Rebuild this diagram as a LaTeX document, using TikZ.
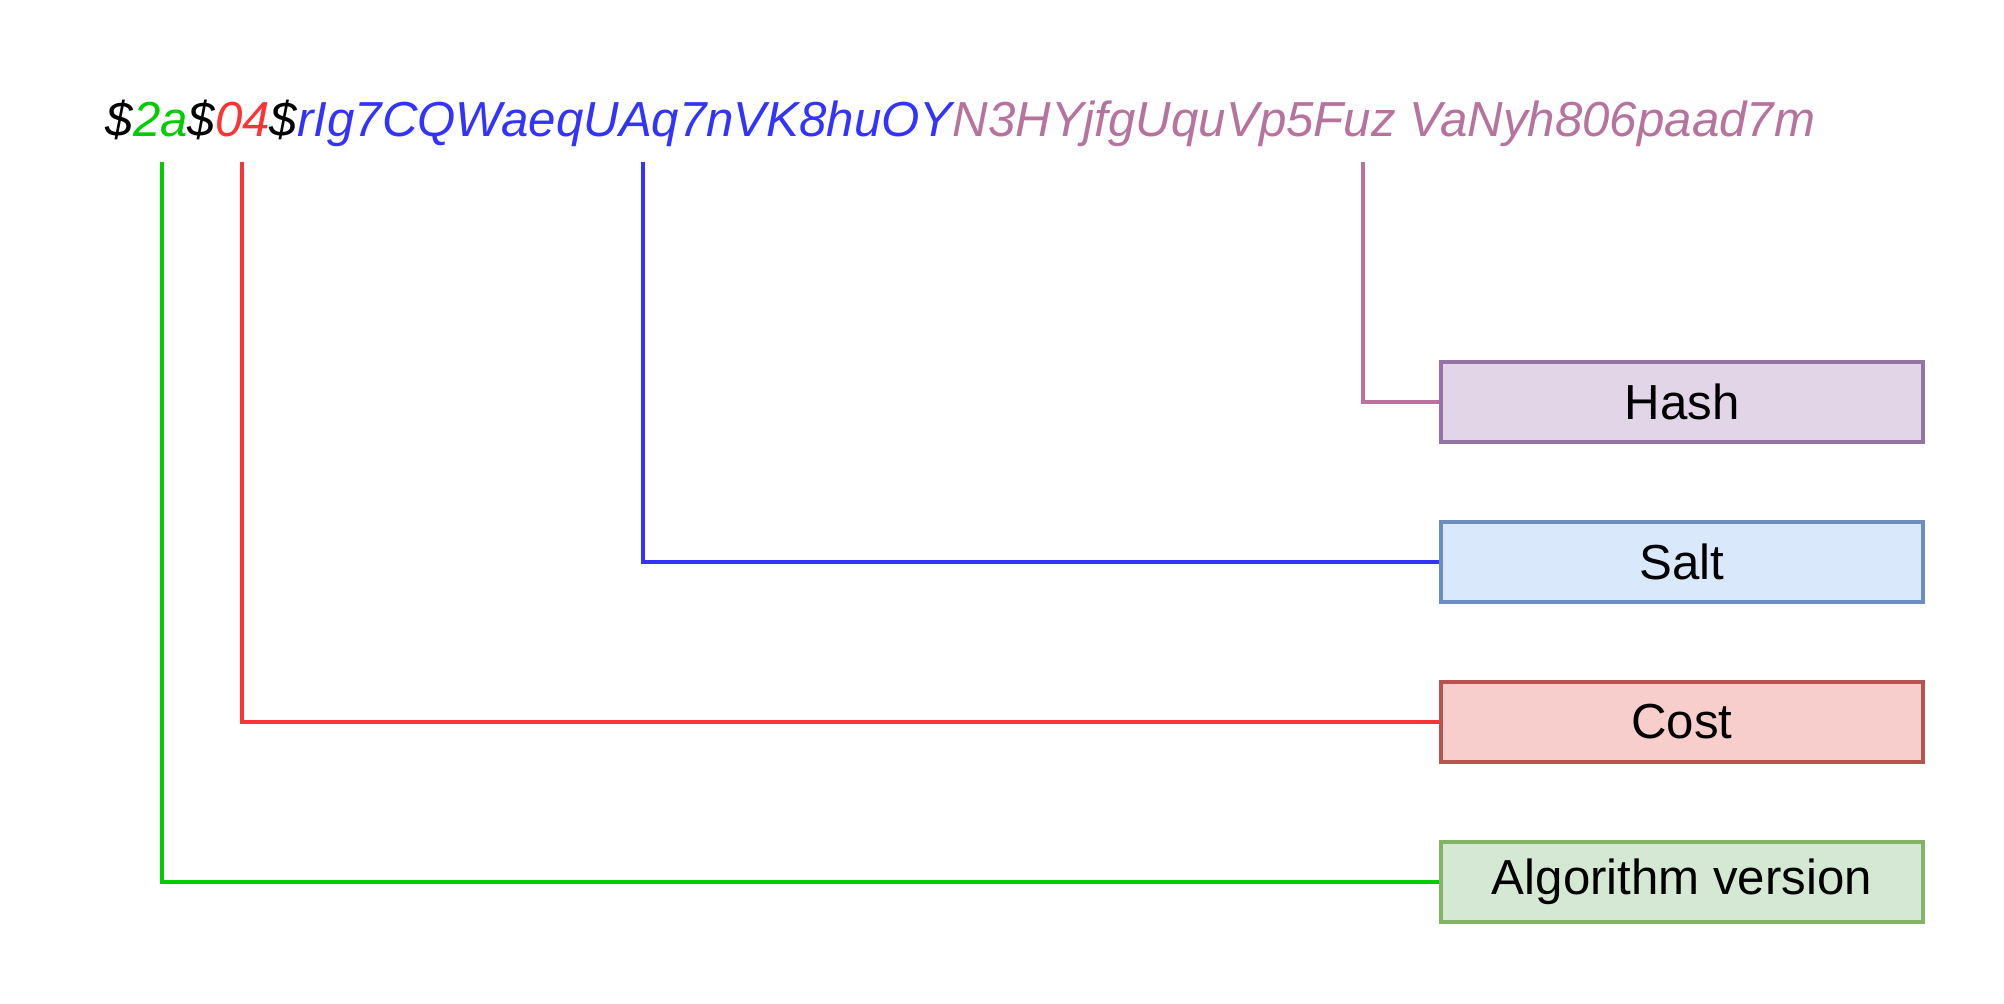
\documentclass[tikz,border=0pt]{standalone}
\usepackage{fontspec}
\setmainfont{Liberation Sans}
\usepackage{tikz}
\usetikzlibrary{positioning}

\definecolor{vergreen}{HTML}{00CC00}
\definecolor{costred}{HTML}{FF3333}
\definecolor{saltblue}{HTML}{3333FF}
\definecolor{hashpurple}{HTML}{B5739D}
\definecolor{hashfill}{HTML}{E1D5E7}
\definecolor{hashdraw}{HTML}{9673A6}
\definecolor{saltfill}{HTML}{DAE8FC}
\definecolor{saltdraw}{HTML}{6C8EBF}
\definecolor{costfill}{HTML}{F8CECC}
\definecolor{costdraw}{HTML}{B85450}
\definecolor{verfill}{HTML}{D5E8D4}
\definecolor{verdraw}{HTML}{82B366}

\begin{document}
\begin{tikzpicture}[x=0.1mm,y=-0.1mm,
		field/.style={draw,line width=1pt,inner sep=0pt,minimum width=4.82cm,minimum height=0.8cm,font=\fontsize{14}{16}\selectfont},
		link/.style={line width=1pt}]
		\useasboundingbox (0,0) rectangle (2004,1004);
		
		% The stored string
		\node[anchor=base west,inner sep=0pt,font=\fontsize{14}{16}\selectfont\itshape] (str) at (105,137)
			{\$\textcolor{vergreen}{2a}\$\textcolor{costred}{04}\$\textcolor{saltblue}{rIg7CQWaeqUAq7nVK8huOY}\textcolor{hashpurple}{N3HYjfgUquVp5Fuz VaNyh806paad7m}};
		
		% Parts
		\node[field,fill=hashfill,draw=hashdraw] (hash) at (1682,402) {Hash};
		\node[field,fill=saltfill,draw=saltdraw,below=0.765cm of hash] (salt) {Salt};
		\node[field,fill=costfill,draw=costdraw,below=0.765cm of salt] (cost) {Cost};
		\node[field,fill=verfill,draw=verdraw,below=0.765cm of cost] (ver) {Algorithm version};
		
		% Where the lines leave the string
		\coordinate (verpt) at (162,162);
		\coordinate (costpt) at (242,162);
		\coordinate (saltpt) at (643,162);
		\coordinate (hashpt) at (1363,162);
		
		% Lines
		\draw[link,vergreen] (verpt) |- (ver.west);
		\draw[link,costred] (costpt) |- (cost.west);
		\draw[link,saltblue] (saltpt) |- (salt.west);
		\draw[link,hashpurple] (hashpt) |- (hash.west);
	\end{tikzpicture}
\end{document}
